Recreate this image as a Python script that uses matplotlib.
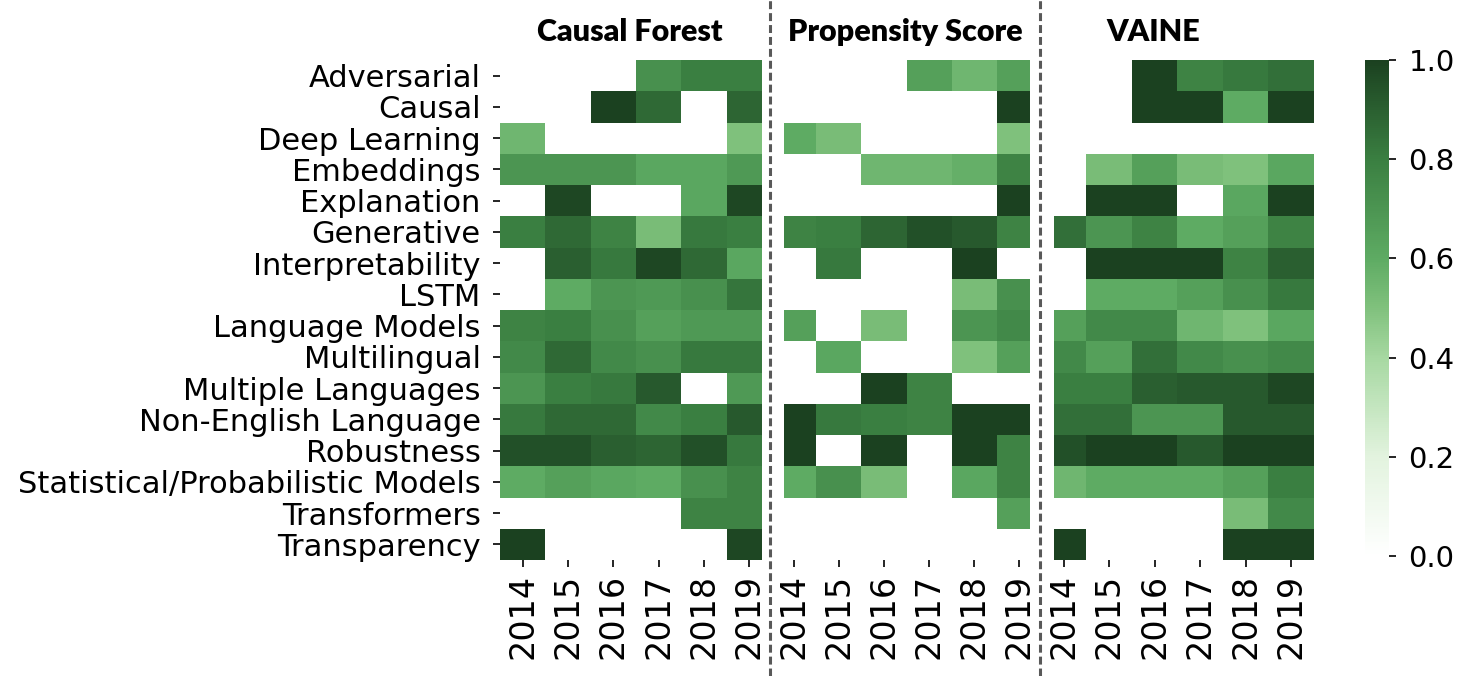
import numpy as np
import matplotlib
matplotlib.use("Agg")
import matplotlib.pyplot as plt
from matplotlib.colors import LinearSegmentedColormap
from matplotlib.lines import Line2D

nan = np.nan

# row / column labels
topics = ["Adversarial", "Causal", "Deep Learning", "Embeddings", "Explanation",
          "Generative", "Interpretability", "LSTM", "Language Models", "Multilingual",
          "Multiple Languages", "Non-English Language", "Robustness",
          "Statistical/Probabilistic Models", "Transformers", "Transparency"]
years = ["2014", "2015", "2016", "2017", "2018", "2019"]
titles = ["Causal Forest", "Propensity Score", "VAINE"]

# values (nan = empty cell)
causal_forest = [
    [nan, nan, nan, 0.72, 0.80, 0.80],
    [nan, nan, 1.00, 0.87, nan, 0.88],
    [0.55, nan, nan, nan, nan, 0.50],
    [0.70, 0.70, 0.70, 0.62, 0.62, 0.68],
    [nan, 0.98, nan, nan, 0.62, 0.98],
    [0.80, 0.87, 0.78, 0.52, 0.82, 0.80],
    [nan, 0.90, 0.82, 0.98, 0.87, 0.62],
    [nan, 0.60, 0.70, 0.68, 0.72, 0.83],
    [0.78, 0.80, 0.72, 0.65, 0.68, 0.68],
    [0.75, 0.87, 0.75, 0.72, 0.82, 0.82],
    [0.70, 0.80, 0.82, 0.92, nan, 0.68],
    [0.82, 0.87, 0.87, 0.75, 0.80, 0.92],
    [0.95, 0.95, 0.90, 0.88, 0.95, 0.82],
    [0.60, 0.65, 0.62, 0.60, 0.72, 0.78],
    [nan, nan, nan, nan, 0.78, 0.78],
    [1.00, nan, nan, nan, nan, 0.98],
]
propensity_score = [
    [nan, nan, nan, 0.65, 0.55, 0.65],
    [nan, nan, nan, nan, nan, 1.00],
    [0.60, 0.52, nan, nan, nan, 0.50],
    [nan, nan, 0.55, 0.55, 0.58, 0.78],
    [nan, nan, nan, nan, nan, 1.00],
    [0.78, 0.80, 0.88, 0.95, 0.92, 0.78],
    [nan, 0.82, nan, nan, 1.00, nan],
    [nan, nan, nan, nan, 0.52, 0.72],
    [0.65, nan, 0.52, nan, 0.70, 0.75],
    [nan, 0.62, nan, nan, 0.50, 0.65],
    [nan, nan, 1.00, 0.78, nan, nan],
    [1.00, 0.82, 0.80, 0.78, 1.00, 1.00],
    [1.00, nan, 1.00, nan, 1.00, 0.78],
    [0.60, 0.72, 0.52, nan, 0.62, 0.78],
    [nan, nan, nan, nan, nan, 0.65],
    [nan, nan, nan, nan, nan, nan],
]
vaine = [
    [nan, nan, 1.00, 0.78, 0.82, 0.85],
    [nan, nan, 1.00, 1.00, 0.60, 1.00],
    [nan, nan, nan, nan, nan, nan],
    [nan, 0.52, 0.65, 0.52, 0.50, 0.62],
    [nan, 1.00, 1.00, nan, 0.62, 1.00],
    [0.85, 0.70, 0.78, 0.60, 0.65, 0.78],
    [nan, 1.00, 1.00, 1.00, 0.78, 0.90],
    [nan, 0.60, 0.60, 0.65, 0.72, 0.82],
    [0.65, 0.75, 0.75, 0.55, 0.50, 0.62],
    [0.75, 0.65, 0.85, 0.75, 0.72, 0.75],
    [0.80, 0.80, 0.90, 0.92, 0.92, 0.98],
    [0.85, 0.85, 0.70, 0.70, 0.92, 0.92],
    [0.95, 1.00, 1.00, 0.92, 1.00, 1.00],
    [0.55, 0.60, 0.60, 0.60, 0.65, 0.80],
    [nan, nan, nan, nan, 0.52, 0.75],
    [1.00, nan, nan, nan, 1.00, 1.00],
]

cmap = LinearSegmentedColormap.from_list(
    "grn", [(0.0, "#ffffff"), (0.2, "#e2f3de"), (0.4, "#a6d8a1"), (0.5, "#80c17d"),
            (0.6, "#5eab63"), (0.8, "#3a7f41"), (1.0, "#1b4120")])

W, H = 1466, 676
fig = plt.figure(figsize=(W / 100, H / 100), dpi=100)

def px(l, r, t, b):
    return [l / W, 1 - b / H, (r - l) / W, (b - t) / H]

# axes boxes (pixels) and visible column ranges
boxes = [(500, 762), (784, 1030), (1054, 1314)]
xlims = [(0, 5.78), (0.28, 5.74), (0.29, 6.0)]
title_x = [630, 905, 1153]
top, bottom = 60, 560

for k, data in enumerate([causal_forest, propensity_score, vaine]):
    ax = fig.add_axes(px(boxes[k][0], boxes[k][1], top, bottom))
    arr = np.ma.masked_invalid(np.array(data))
    ax.pcolormesh(arr, cmap=cmap, vmin=0, vmax=1)
    ax.set_xlim(*xlims[k])
    ax.set_ylim(len(topics), 0)
    ax.set_xticks(np.arange(len(years)) + 0.5)
    ax.set_xticklabels(years, rotation=90, fontsize=24)
    if k == 0:
        ax.set_yticks(np.arange(len(topics)) + 0.5)
        ax.set_yticklabels(topics, fontsize=22)
    else:
        ax.set_yticks([])
    for s in ax.spines.values():
        s.set_visible(False)
    ax.tick_params(axis="y", length=5, width=1.2, pad=9)
    ax.tick_params(axis="x", length=5, width=1.2, pad=5)
    fig.text(title_x[k] / W, 1 - 32 / H, titles[k], ha="center", va="center",
             fontsize=22, fontweight="heavy", family="Lato")

# colorbar
cax = fig.add_axes(px(1365, 1389, 60, 556))
sm = plt.cm.ScalarMappable(cmap=cmap, norm=plt.Normalize(0, 1))
cb = fig.colorbar(sm, cax=cax, ticks=[0, 0.2, 0.4, 0.6, 0.8, 1.0])
cb.outline.set_visible(False)
cb.ax.tick_params(labelsize=21, length=5, width=1.2, pad=9)

# dashed separators
for xs in [770, 1040]:
    fig.add_artist(Line2D([xs / W, xs / W], [0, 1], color="#595959", lw=2.2,
                          linestyle=(0, (2.6, 1.3))))

fig.savefig("out.png", dpi=100)
